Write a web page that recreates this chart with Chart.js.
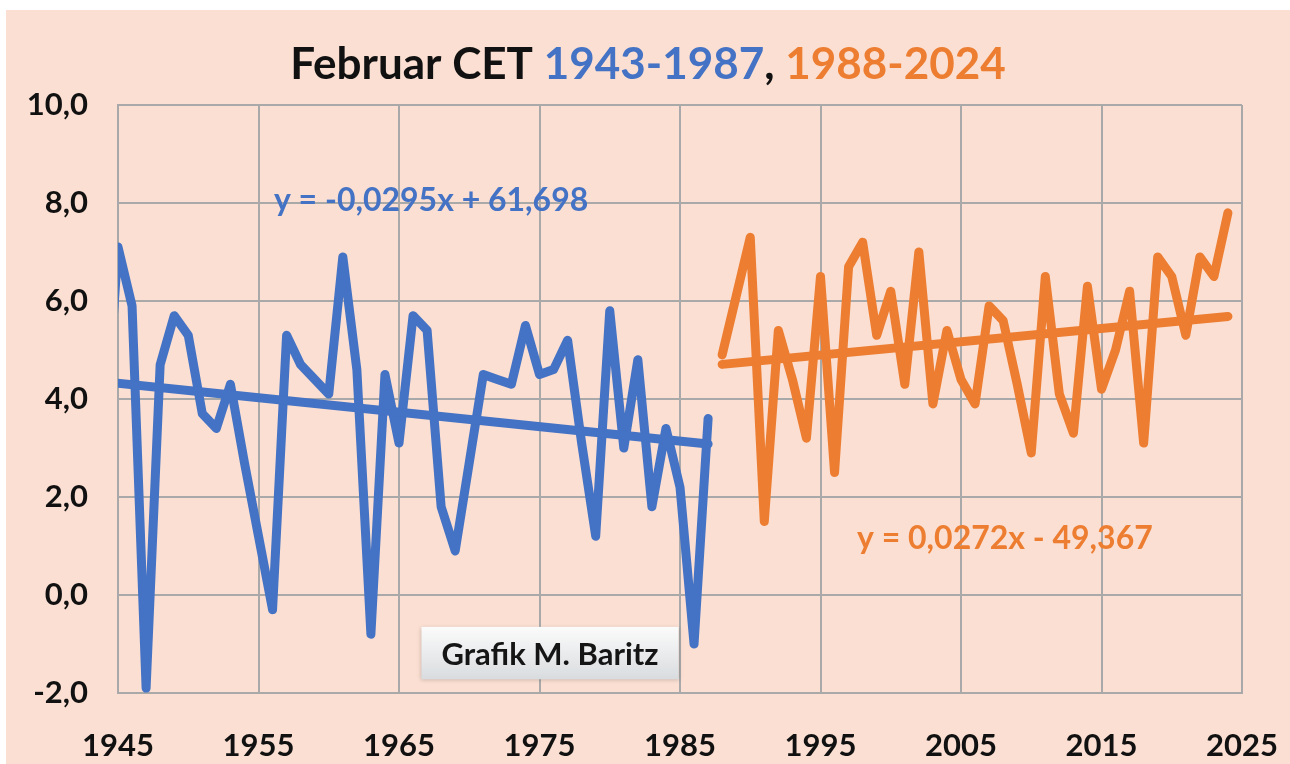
<!DOCTYPE html>
<html>
<head>
<meta charset="utf-8">
<script src="https://cdn.jsdelivr.net/npm/chart.js@4"></script>
<style>
  html, body { margin: 0; padding: 0; background: #fff; }
  #frame {
    position: absolute; left: 6px; top: 10px;
    width: 1284px; height: 754px;
    background: #fadfd2;
  }
  #chart { display: block; }
</style>
</head>
<body>
<div id="frame"><canvas id="chart" width="1284" height="754"></canvas></div>
<script>
// --- DATA ---
const firstYearA = 1943;
const tempsA = [5.6, 2.8, 7.1, 5.9, -1.9, 4.7, 5.7, 5.3, 3.7, 3.4,
                4.3, 2.7, 1.2, -0.3, 5.3, 4.7, 4.4, 4.1, 6.9, 4.6,
                -0.8, 4.5, 3.1, 5.7, 5.4, 1.8, 0.9, 2.7, 4.5, 4.4,
                4.3, 5.5, 4.5, 4.6, 5.2, 3.1, 1.2, 5.8, 3.0, 4.8,
                1.8, 3.4, 2.2, -1.0, 3.6];

const firstYearB = 1988;
const tempsB = [4.9, 6.1, 7.3, 1.5, 5.4, 4.4, 3.2, 6.5, 2.5, 6.7,
                7.2, 5.3, 6.2, 4.3, 7.0, 3.9, 5.4, 4.4, 3.9, 5.9,
                5.6, 4.3, 2.9, 6.5, 4.1, 3.3, 6.3, 4.2, 5.0, 6.2,
                3.1, 6.9, 6.5, 5.3, 6.9, 6.5, 7.8];

// trendline equations as printed on the chart
const trendA = { slope: -0.0295, icept: 61.698, label: 'y = -0,0295x + 61,698' };
const trendB = { slope: 0.0272, icept: -49.367, label: 'y = 0,0272x - 49,367' };

const xTicks = [1945, 1955, 1965, 1975, 1985, 1995, 2005, 2015, 2025];
const yTicks = [-2, 0, 2, 4, 6, 8, 10];

const BLUE = '#4472c4';
const ORANGE = '#ed7d31';
const GRID = '#a9a9a9';
const FONT = 'Lato, "Open Sans", sans-serif';

function toPoints(start, vals) {
    return vals.map((v, i) => ({ x: start + i, y: v }));
}
function trendPoints(t, start, count) {
    const x0 = start, x1 = start + count - 1;
    return [{ x: x0, y: t.slope * x0 + t.icept }, { x: x1, y: t.slope * x1 + t.icept }];
}
const fmt = v => v.toFixed(1).replace('.', ',');

// --- TITLE / LABELS ---
const overlayPlugin = {
    id: 'overlay',
    afterDraw(chart) {
        const ctx = chart.ctx;
        const xs = chart.scales.x, ys = chart.scales.y;
        ctx.save();

        // multi-coloured title
        const parts = [
            ['Februar CET ', '#111'],
            ['1943-1987', BLUE],
            [', ', '#111'],
            ['1988-2024', ORANGE]
        ];
        ctx.font = 'bold 44px ' + FONT;
        ctx.textBaseline = 'middle';
        const total = parts.reduce((s, p) => s + ctx.measureText(p[0]).width, 0);
        let tx = chart.width / 2 - total / 2;
        parts.forEach(p => {
            ctx.fillStyle = p[1];
            ctx.textAlign = 'left';
            ctx.fillText(p[0], tx, 55);
            tx += ctx.measureText(p[0]).width;
        });

        // trend equations
        ctx.font = 'bold 32px ' + FONT;
        ctx.textAlign = 'left';
        ctx.fillStyle = BLUE;
        ctx.fillText(trendA.label, xs.getPixelForValue(1956.1), ys.getPixelForValue(8.05));
        ctx.fillStyle = ORANGE;
        ctx.fillText(trendB.label, xs.getPixelForValue(1997.6), ys.getPixelForValue(1.15));

        // credit box
        const bx0 = xs.getPixelForValue(1966.6), bx1 = xs.getPixelForValue(1984.9);
        const by0 = ys.getPixelForValue(-0.65), by1 = ys.getPixelForValue(-1.72);
        const g = ctx.createLinearGradient(0, by0, 0, by1);
        g.addColorStop(0, '#fbfbfb');
        g.addColorStop(1, '#d9dcdf');
        ctx.shadowColor = 'rgba(0,0,0,0.18)';
        ctx.shadowBlur = 4;
        ctx.shadowOffsetY = 1;
        ctx.fillStyle = g;
        ctx.fillRect(bx0, by0, bx1 - bx0, by1 - by0);
        ctx.shadowColor = 'transparent';
        ctx.fillStyle = '#151515';
        ctx.font = 'bold 31px ' + FONT;
        ctx.textAlign = 'center';
        ctx.fillText('Grafik M. Baritz', (bx0 + bx1) / 2, (by0 + by1) / 2 + 2);
        ctx.restore();
    }
};

// --- CHART ---
function renderChart() {
    const ctx = document.getElementById('chart').getContext('2d');
    const lineStyle = {
        borderWidth: 9,
        pointRadius: 0,
        tension: 0,
        fill: false,
        borderJoinStyle: 'round',
        borderCapStyle: 'round',
        clip: { left: 0, right: 6, top: 6, bottom: 6 }
    };
    new Chart(ctx, {
        type: 'line',
        data: {
            datasets: [
                { ...lineStyle, label: 'Trend 1943-1987', data: trendPoints(trendA, firstYearA, tempsA.length), borderColor: BLUE },
                { ...lineStyle, label: 'Trend 1988-2024', data: trendPoints(trendB, firstYearB, tempsB.length), borderColor: ORANGE },
                { ...lineStyle, label: '1943-1987', data: toPoints(firstYearA, tempsA), borderColor: BLUE },
                { ...lineStyle, label: '1988-2024', data: toPoints(firstYearB, tempsB), borderColor: ORANGE }
            ]
        },
        options: {
            responsive: false,
            animation: false,
            layout: { padding: { top: 95, right: 48, left: 0, bottom: 0 } },
            plugins: { legend: { display: false }, tooltip: { enabled: false }, title: { display: false } },
            scales: {
                x: {
                    type: 'linear',
                    min: xTicks[0],
                    max: xTicks[xTicks.length - 1],
                    afterBuildTicks: s => { s.ticks = xTicks.map(v => ({ value: v })); },
                    afterFit: s => { s.height = 71; s.paddingLeft = 0; s.paddingRight = 0; },
                    grid: { color: GRID, lineWidth: 2, drawTicks: false },
                    border: { color: GRID, width: 2 },
                    ticks: { color: '#111', padding: 34, maxRotation: 0, font: { family: FONT, size: 31, weight: 'bold' }, callback: v => String(v) }
                },
                y: {
                    min: yTicks[0],
                    max: yTicks[yTicks.length - 1],
                    afterBuildTicks: s => { s.ticks = yTicks.map(v => ({ value: v })); },
                    afterFit: s => { s.width = 112; s.paddingTop = 0; s.paddingBottom = 0; },
                    grid: { color: GRID, lineWidth: 2, drawTicks: false },
                    border: { color: GRID, width: 2 },
                    ticks: { color: '#111', padding: 30, font: { family: FONT, size: 31, weight: 'bold' }, callback: v => fmt(v) }
                }
            }
        },
        plugins: [overlayPlugin]
    });
}

window.onload = renderChart;
</script>
</body>
</html>
